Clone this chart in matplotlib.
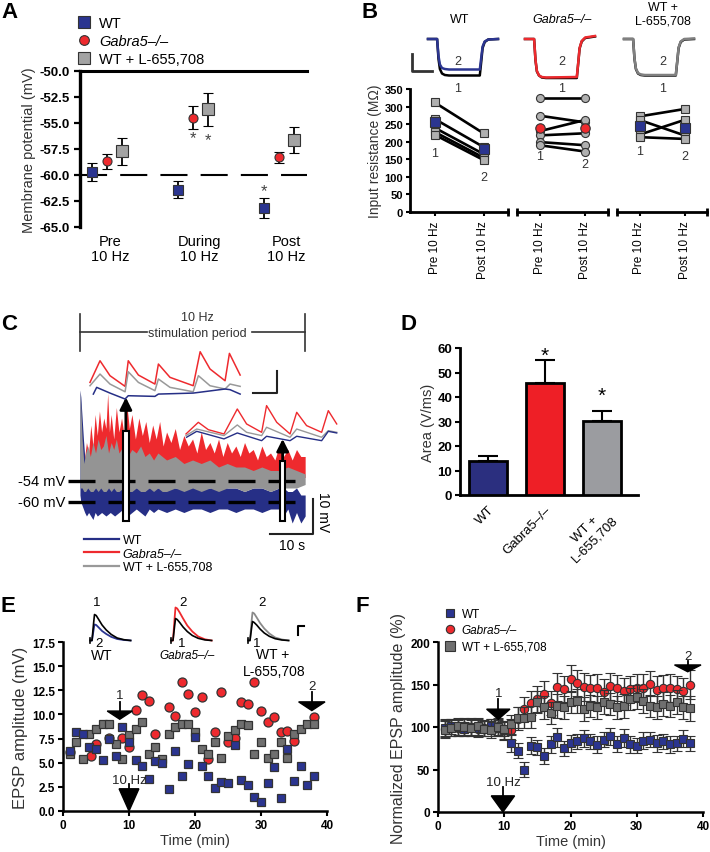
import matplotlib
matplotlib.use('Agg')
import matplotlib.pyplot as plt
from matplotlib.lines import Line2D
from matplotlib.patches import Rectangle

plt.rcParams['font.family'] = ['Liberation Sans', 'DejaVu Sans']
plt.rcParams['axes.unicode_minus'] = False

W, H = 710, 853

BLUE = '#2b3590'
RED = '#ee2a2e'
GRAY = '#a3a3a3'
DGRAY = '#6f6f6f'
EDGE = '#333333'

# ---------------- A: membrane potential
a_groups = ['Pre\n10 Hz', 'During\n10 Hz', 'Post\n10 Hz']
a_wt = [-59.7, -61.4, -63.2]
a_wt_err = [0.9, 0.8, 0.95]
a_ko = [-58.7, -54.5, -58.3]
a_ko_err = [0.75, 1.1, 0.55]
a_l = [-57.7, -53.7, -56.6]
a_l_err = [1.3, 1.55, 1.25]
a_yticks = [-65.0, -62.5, -60.0, -57.5, -55.0, -52.5, -50.0]

# ---------------- B: input resistance (MOhm)
b_wt_pre = [312, 265, 240, 228, 220]
b_wt_post = [224, 185, 165, 155, 148]
b_wt_mean = [255, 178]
b_ko_pre = [323, 274, 230, 218, 199, 190]
b_ko_post = [323, 255, 262, 224, 190, 172]
b_ko_mean = [240, 238]
b_l_pre = [272, 262, 220, 213]
b_l_post = [293, 218, 262, 208]
b_l_mean = [246, 239]
b_ticks = ['Pre 10 Hz', 'Post 10 Hz']
# step responses (ms, mV)
b_step_t = [0, 13, 15, 17, 20, 24, 30, 74, 76, 78, 81, 86, 100]
b_wt1 = [0, 0, -4.0, -6.0, -6.9, -7.2, -7.3, -7.3, -4.6, -1.8, -0.6, -0.1, 0]
b_wt2 = [0, 0, -3.4, -5.1, -5.8, -6.0, -6.1, -6.1, -3.8, -1.5, -0.5, -0.1, 0]
b_ko1 = [0, 0, -4.3, -6.5, -7.3, -7.7, -7.8, -7.8, -4.9, -1.9, -0.5, 0.2, 0.5]
b_ko2 = [0, 0, -4.2, -6.4, -7.3, -7.6, -7.7, -7.6, -4.8, -1.8, -0.4, 0.3, 0.6]
b_l1 = [0, 0, -4.0, -6.0, -6.9, -7.2, -7.3, -7.3, -4.6, -1.8, -0.6, -0.1, 0]
b_l2 = [0, 0, -3.9, -5.9, -6.8, -7.1, -7.2, -7.2, -4.5, -1.7, -0.5, 0, 0.1]

# ---------------- C: 10 Hz train (s, mV)
c_red_t = [0.5, 1.0, 1.5, 2.0, 2.5, 3.0, 3.5, 4.0, 4.5, 5.0, 5.5, 6.0, 6.4, 6.8, 7.2, 7.8,
           8.4, 9.0, 9.6, 10.2, 10.8, 11.4, 12.0, 12.8, 13.6, 14.4, 15.2, 16.0, 16.8, 17.6,
           18.4, 19.2, 20.0, 21.0, 22.0, 23.0, 24.0, 25.0, 26.0, 27.0, 28.0, 29.0, 30.0,
           31.0, 32.0, 33.0, 34.0, 35.0, 36.0, 37.0, 38.0, 39.0, 40.0, 41.0, 42.0, 43.0,
           44.0, 45.0, 46.0, 47.0, 48.0, 49.0, 50.0, 51.0, 52.0]
c_red_hi = [-45, -48, -43, -46, -38, -44, -35, -41, -34, -40, -36, -39, -29, -40, -35, -42,
            -33, -40, -36, -41, -32, -39, -35, -42, -36, -41, -37, -43, -38, -42,
            -37, -44, -40, -43, -39, -45, -41, -44, -42, -46, -40, -45, -43,
            -46, -42, -47, -43, -46, -44, -47, -43, -46, -45, -48, -44, -47,
            -46, -48, -44, -47, -45, -48, -45, -47, -47]
c_red_floor = -53
c_gray_t = [0.0, 0.2, 0.5, 0.9, 1.3, 1.8, 2.4, 3.0, 3.6, 4.2, 4.8, 5.4, 6.0, 6.6, 7.2, 7.8,
            8.4, 9.0, 10, 11, 12, 13, 14, 15, 16, 17, 18, 19, 20, 22, 24, 26, 28, 30, 32,
            34, 36, 38, 40, 42, 44, 46, 48, 50, 52]
c_gray_hi = [-28, -33, -42, -49, -46, -44, -47, -43, -46, -42, -45, -44, -41, -46, -43, -45,
             -42, -46, -44, -47, -45, -46, -44, -47, -46, -48, -46, -47, -48, -47, -49, -48,
             -49, -48, -50, -49, -50, -50, -51, -50, -51, -51, -50, -51, -52]
c_gray_lo = [-56, -56, -56, -57, -57, -56, -57, -57, -56, -57, -56, -57, -57, -56, -57, -56,
             -57, -57, -56, -57, -57, -56, -57, -57, -56, -57, -56, -57, -57, -56, -57, -56,
             -57, -56, -57, -56, -56, -57, -56, -56, -57, -56, -56, -56, -55]
c_wt_t = [0.0, 0.2, 0.5, 0.8, 1.1, 1.5, 2.0, 2.5, 3.0, 3.5, 4.0, 5, 6, 7, 8, 9, 10, 11, 12,
          13, 14, 15, 16, 17, 18, 20, 22, 24, 26, 28, 30, 32, 34, 36, 38, 40, 42, 44, 46,
          47, 48, 49, 50, 51, 52]
c_wt_hi = [-28, -30, -36, -42, -47, -50, -48, -52, -50, -53, -51, -54, -52, -55, -53, -55,
           -54, -56, -54, -56, -55, -55, -56, -55, -56, -55, -56, -56, -55, -56, -56, -55,
           -56, -56, -57, -56, -56, -57, -56, -56, -57, -57, -56, -58, -58]
c_wt_lo = [-58, -60, -61, -62, -63, -64, -63, -64, -65, -63, -64, -63, -64, -63, -64, -63,
           -62, -64, -63, -62, -63, -64, -62, -63, -62, -63, -62, -63, -62, -62, -63, -62,
           -62, -63, -62, -62, -63, -62, -62, -64, -62, -66, -63, -66, -64]
c_levels = [-54, -60]
c_box_t = [9.9, 46.2]
c_box_w = [1.4, 1.2]
c_box_lo = [-65.3, -65.3]
c_box_hi = [-39.6, -48.2]
c_tip = [-30.1, -42.0]
# early EPSP train (ms, mV)
c1_red_t = [0, 34.5, 69, 121, 132, 167, 224, 236, 276, 356, 380, 414, 466, 481, 518]
c1_red_v = [0.30, 2.27, 0.91, -0.06, 2.27, 0.97, 0.15, 1.97, 0.76, 0.0, 3.09, 1.52, 0.45, 2.94, 0.97]
c1_gray_t = [0, 34.5, 69, 121, 132, 167, 224, 236, 276, 356, 374, 414, 466, 483, 518]
c1_gray_v = [0, 1.06, 0.15, -0.55, 1.27, 0.30, -0.45, 0.61, -0.15, -0.55, 0.91, 0.0, -0.30, 0.15, -0.06]
c1_wt_t = [11.5, 23, 69, 121, 132, 224, 236, 356, 466, 483, 518]
c1_wt_v = [-0.76, -0.15, -0.67, -1.21, -0.91, -0.97, -0.76, -0.67, -0.30, -0.36, -0.76]
# late EPSP train
c2_red_t = [0, 42.5, 77, 131, 177, 209, 261, 278, 313, 359, 382, 416, 468, 491, 520]
c2_red_v = [0, 1.06, 0.39, 0, 2.27, 0.91, 0.15, 2.58, 1.06, 0, 1.97, 0.76, 0.15, 2.12, 0.91]
c2_gray_t = [0, 37, 131, 177, 209, 261, 278, 359, 382, 468, 491, 520]
c2_gray_v = [-0.15, 0.45, -0.15, 0.82, 0.15, -0.15, 0.61, -0.30, 0.45, -0.30, 0.30, 0.15]
c2_wt_t = [2, 37, 131, 177, 261, 278, 359, 382, 468, 491, 520]
c2_wt_v = [-0.30, 0.24, -0.45, 0.09, -0.61, -0.21, -0.61, -0.21, -0.61, 0.24, 0.09]

# ---------------- D: area
d_groups = ['WT', 'Gabra5\u2013/\u2013', 'WT +\nL-655,708']
d_vals = [14.0, 45.7, 30.4]
d_err = [2.0, 9.5, 3.8]

# ---------------- E: single experiments (min, mV)
e_wt_t = [1, 2, 3, 4, 5, 6, 7, 8, 9, 10, 11, 12, 13, 14, 15, 16, 17, 18, 19, 20, 21, 22, 23,
          24, 25, 26, 27, 28, 29, 30, 31, 32, 33, 34, 35, 36, 37, 38]
e_wt_v = [6.2, 8.2, 8.0, 6.6, 6.4, 5.3, 7.45, 5.7, 8.7, 7.1, 5.3, 4.65, 3.3, 5.2, 5.0, 2.3,
          6.2, 3.6, 4.9, 7.7, 4.65, 3.6, 2.4, 3.0, 2.9, 6.8, 3.2, 2.7, 1.45, 0.95, 2.9, 4.55,
          1.35, 6.4, 3.1, 4.65, 2.7, 3.6]
e_ko_t = [1, 4.2, 5, 7, 9, 10, 11, 12, 13, 14, 16, 17, 18, 19, 20, 21, 22, 23, 24, 25, 26,
          27, 28, 29, 30, 31, 32, 33, 34, 35, 38]
e_ko_v = [6.1, 5.7, 6.9, 7.6, 7.6, 6.6, 10.5, 12.0, 11.4, 8.0, 10.8, 9.8, 13.4, 12.1, 10.2,
          11.8, 5.4, 8.2, 12.3, 7.1, 7.6, 11.3, 11.1, 13.4, 10.4, 9.2, 9.7, 8.2, 8.3, 7.3, 9.7]
e_l_t = [1, 2, 3, 4, 5, 6, 7, 8, 9, 10, 11, 12, 13, 14, 15, 16, 17, 18, 19, 20, 21, 22, 23,
         24, 25, 26, 27, 28, 29, 30, 31, 32, 33, 34, 35, 36, 37, 38]
e_l_v = [5.9, 7.1, 5.4, 8.0, 8.5, 9.0, 9.0, 6.9, 5.4, 7.9, 8.5, 9.2, 5.9, 6.6, 5.4, 8.0, 8.7,
         9.0, 9.0, 8.2, 6.4, 5.9, 7.1, 5.5, 7.8, 8.4, 9.0, 8.9, 5.9, 7.1, 5.5, 5.9, 7.1, 5.5,
         8.0, 8.5, 9.0, 9.0]
e_yticks = [0.0, 2.5, 5.0, 7.5, 10.0, 12.5, 15.0, 17.5]
# EPSP insets (ms, mV)
e_ins_t = [0, 2, 4, 5, 7, 10, 14, 19, 25, 32, 40, 48]
e_wt1 = [0, 0, 1.8, 2.6, 2.5, 2.1, 1.55, 1.05, 0.6, 0.25, 0.08, 0]
e_wt2 = [0, 0, 1.1, 1.6, 1.55, 1.3, 0.95, 0.65, 0.36, 0.15, 0.05, 0]
e_ko2 = [0, 0, 2.3, 3.3, 3.2, 2.8, 2.2, 1.5, 0.9, 0.4, 0.12, 0]
e_ko1 = [0, 0, 1.5, 2.2, 2.1, 1.8, 1.35, 0.9, 0.5, 0.22, 0.06, 0]
e_l2 = [0, 0, 2.0, 2.8, 2.7, 2.3, 1.75, 1.2, 0.7, 0.3, 0.1, 0]
e_l1 = [0, 0, 1.3, 1.9, 1.8, 1.55, 1.15, 0.75, 0.42, 0.18, 0.05, 0]

# ---------------- F: normalized EPSP (%)
f_t = list(range(1, 39))
f_wt = [99, 101, 100, 98, 100, 99, 98, 101, 99, 96, 81, 72, 50, 78, 76, 66, 80, 88, 75, 81,
        83, 87, 83, 79, 85, 89, 80, 87, 80, 78, 84, 85, 81, 83, 80, 81, 86, 81]
f_wt_err = [10, 9, 10, 8, 9, 10, 9, 8, 9, 10, 10, 9, 9, 10, 9, 9, 10, 11, 9, 10, 9, 10, 9,
            10, 9, 10, 9, 11, 10, 9, 10, 9, 10, 9, 10, 9, 10, 9]
f_ko = [98, 100, 99, 101, 100, 98, 99, 100, 101, 96, 97, 110, 121, 128, 133, 139, 128, 147,
        145, 157, 152, 147, 146, 146, 141, 148, 146, 142, 145, 146, 146, 151, 144, 146, 146,
        145, 142, 150]
f_ko_err = [10, 10, 9, 10, 11, 10, 9, 10, 10, 11, 12, 13, 14, 14, 15, 15, 14, 16, 15, 16, 15,
            16, 15, 16, 15, 16, 15, 16, 15, 16, 16, 15, 16, 15, 16, 15, 16, 17]
f_l = [97, 99, 101, 100, 99, 101, 98, 97, 100, 98, 103, 111, 111, 112, 129, 123, 117, 125,
       123, 129, 131, 121, 125, 123, 129, 127, 123, 125, 133, 135, 131, 125, 123, 127, 125,
       129, 123, 122]
f_l_err = [10, 9, 10, 10, 9, 10, 9, 10, 10, 9, 11, 12, 12, 13, 13, 14, 13, 14, 14, 13, 14, 14,
           13, 14, 14, 13, 14, 14, 13, 14, 14, 13, 14, 14, 13, 14, 14, 15]

fig = plt.figure(figsize=(7.1, 8.53), dpi=100)


def box(x0, y0, x1, y1):
    return [x0 / W, 1 - y1 / H, (x1 - x0) / W, (y1 - y0) / H]


def ftext(x, y, s, **kw):
    kw.setdefault('ha', 'center')
    kw.setdefault('va', 'center')
    fig.text(x / W, 1 - y / H, s, **kw)


def bold_ticks(ax, size):
    for lab in ax.get_xticklabels() + ax.get_yticklabels():
        lab.set_fontweight('bold')
        lab.set_fontsize(size)


def down_arrow(ax, x, tip, base, top, hw, label, label_y):
    ax.fill([x - hw, x + hw, x], [base, base, tip], color='k', clip_on=False, zorder=6)
    ax.plot([x, x], [base, top], color='k', lw=1.3, clip_on=False, zorder=6)
    ax.text(x, label_y, label, ha='center', va='bottom', fontsize=9.5, color='#222222',
            zorder=6)


# ======================= A
axA = fig.add_axes(box(80, 72, 307, 228))
off = 0.17
xs = range(3)
axA.errorbar([x - off for x in xs], a_wt, yerr=a_wt_err, fmt='s', ms=7.5, mfc=BLUE,
             mec=EDGE, mew=0.8, ecolor='k', elinewidth=1.3, capsize=3.6, capthick=1.3,
             zorder=4)
axA.errorbar(list(xs), a_ko, yerr=a_ko_err, fmt='o', ms=6.5, mfc=RED, mec=EDGE, mew=0.8,
             ecolor='k', elinewidth=1.3, capsize=3.6, capthick=1.3, zorder=4)
axA.errorbar([x + off for x in xs], a_l, yerr=a_l_err, fmt='s', ms=8, mfc=GRAY, mec=EDGE,
             mew=0.8, ecolor='k', elinewidth=1.3, capsize=3.6, capthick=1.3, zorder=4)
axA.axhline(-60, color='k', lw=1.5, dashes=(13, 6.3), zorder=2)
axA.set_xlim(-0.314, 2.326)
axA.set_ylim(-65, -50)
for s in ['right', 'bottom']:
    axA.spines[s].set_visible(False)
axA.spines['left'].set_linewidth(2.4)
axA.spines['top'].set_linewidth(2.2)
axA.set_yticks(a_yticks)
axA.set_yticklabels(['%.1f' % v for v in a_yticks])
axA.tick_params(axis='y', length=4, width=1.6)
axA.set_xticks([0.04, 1.07, 2.09])
axA.set_xticklabels(a_groups, fontsize=10.5, linespacing=1.1)
axA.tick_params(axis='x', length=0, pad=5)
for lab in axA.get_yticklabels():
    lab.set_fontweight('bold')
    lab.set_fontsize(9.5)
axA.set_ylabel('Membrane potential (mV)', fontsize=10.5, color='#333333', labelpad=2)
for x, y in [(1.0, -56.4), (1.17, -56.6), (1.83, -61.5)]:
    axA.text(x, y, '*', ha='center', va='center', fontsize=12, color='#444444')
legA = fig.legend(handles=[
    Line2D([], [], ls='none', marker='s', ms=8, mfc=BLUE, mec=EDGE, mew=0.8),
    Line2D([], [], ls='none', marker='o', ms=7, mfc=RED, mec=EDGE, mew=0.8),
    Line2D([], [], ls='none', marker='s', ms=8, mfc=GRAY, mec=EDGE, mew=0.8)],
    labels=['WT', 'Gabra5\u2013/\u2013', 'WT + L-655,708'],
    loc='upper left', bbox_to_anchor=(77 / W, 1 - 17 / H), frameon=False, fontsize=10.5,
    handlelength=1.0, handletextpad=0.5, labelspacing=0.27, borderpad=0, borderaxespad=0)
legA.get_texts()[1].set_fontstyle('italic')

# ======================= B
b_boxes = [(410, 508), (517, 608), (617, 707)]
b_sets = [(b_wt_pre, b_wt_post, b_wt_mean, 's', BLUE),
          (b_ko_pre, b_ko_post, b_ko_mean, 'o', RED),
          (b_l_pre, b_l_post, b_l_mean, 's', BLUE)]
b_nums = [((0, 168), (1, 100)), ((0, 160), (1, 137)), ((0, 174), (1, 160))]
for i, ((x0, x1), (pre, post, mean, mk, col)) in enumerate(zip(b_boxes, b_sets)):
    ax = fig.add_axes(box(x0, 90, x1, 213))
    for p, q in zip(pre, post):
        ax.plot([0, 1], [p, q], color='k', lw=1.9, zorder=2)
        ax.plot([0, 1], [p, q], ls='none', marker=mk, ms=5.8, mfc='#b0b0b0',
                mec='#333333', mew=0.8, zorder=3)
    ax.plot([0, 1], mean, ls='none', marker=mk, ms=6.8, mfc=col, mec='#333333', mew=0.8,
            zorder=4)
    ax.set_xlim(-0.5, 1.5)
    ax.set_ylim(0, 350)
    ax.spines['top'].set_visible(False)
    ax.spines['right'].set_visible(False)
    ax.spines['bottom'].set_linewidth(2)
    ax.set_xticks([0, 1])
    ax.set_xticklabels(b_ticks, rotation=90, fontsize=8.5, va='top')
    ax.tick_params(axis='x', length=3, width=1.5, pad=3)
    ax.plot([0, 1] if i else [1], [0, 0] if i else [0], transform=ax.transAxes, ls='none',
            marker='|', ms=6, mew=2, color='k', clip_on=False)
    if i == 0:
        ax.spines['left'].set_linewidth(2)
        ax.set_yticks(range(0, 351, 50))
        ax.tick_params(axis='y', length=3, width=1.5, pad=2)
        for lab in ax.get_yticklabels():
            lab.set_fontweight('bold')
            lab.set_fontsize(8)
        ax.set_ylabel('Input resistance (M\u03a9)', fontsize=10, color='#333333',
                      labelpad=2)
    else:
        ax.spines['left'].set_visible(False)
        ax.set_yticks([])
    (nx1, ny1), (nx2, ny2) = b_nums[i]
    ax.text(nx1, ny1, '1', ha='center', va='center', fontsize=9, color='#333333')
    ax.text(nx2, ny2, '2', ha='center', va='center', fontsize=9, color='#333333')

b_ins = [(403.5, b_wt1, b_wt2, BLUE), (500.5, b_ko1, b_ko2, RED),
         (599.5, b_l1, b_l2, '#808080')]
for j, (left, v1, v2, col) in enumerate(b_ins):
    ax = fig.add_axes(box(left, 30, left + 98, 90))
    ax.plot(b_step_t, v1, color='k', lw=1.8)
    ax.plot(b_step_t, v2, color=col, lw=1.8)
    ax.set_xlim(-35, 105)
    ax.set_ylim(-10, 2)
    ax.axis('off')
    if j == 0:
        ax.plot([-23, -23, 5.7], [-3.0, -6.4, -6.4], color='#333333', lw=2)
ftext(460, 20, 'WT', fontsize=9)
ftext(562, 20, 'Gabra5\u2013/\u2013', fontsize=9, fontstyle='italic')
ftext(663, 15, 'WT +\nL-655,708', fontsize=9, linespacing=1.15)
for cx in [458, 562, 663]:
    ftext(cx, 62, '2', fontsize=9, color='#333333')
    ftext(cx, 89, '1', fontsize=9, color='#333333')

# ======================= C
axC = fig.add_axes(box(15, 300, 345, 545))
axC.set_xlim(-15.0, 61.2)
axC.set_ylim(-72, -2)
axC.axis('off')
axC.fill_between(c_red_t, c_red_hi, c_red_floor, color=RED, lw=0, zorder=1)
axC.fill_between(c_wt_t, c_wt_hi, c_wt_lo, color='#262f86', lw=0, zorder=2)
axC.fill_between(c_gray_t, c_gray_hi, c_gray_lo, color='#949494', lw=0, zorder=3)
for lv in c_levels:
    axC.plot([-2.8, 49.7], [lv, lv], color='k', lw=2.4, dashes=(8.1, 3.9), zorder=4)
    axC.text(-3.3, lv, '%d mV' % lv, ha='right', va='center', fontsize=10.5)
for t0, w, lo, hi, tip in zip(c_box_t, c_box_w, c_box_lo, c_box_hi, c_tip):
    axC.add_patch(Rectangle((t0, lo), w, hi - lo, fc='white', ec='k', lw=1.5, zorder=5))
    axC.annotate('', xy=(t0 + w / 2, tip), xytext=(t0 + w / 2, hi),
                 arrowprops=dict(arrowstyle='-|>', color='k', lw=2, mutation_scale=18,
                                 shrinkA=0, shrinkB=0), zorder=6)
# stimulation period bar
axC.plot([0, 15.5], [-11.4, -11.4], color='#333333', lw=1.2)
axC.plot([39.7, 52], [-11.4, -11.4], color='#333333', lw=1.2)
axC.plot([0, 0], [-6.3, -16.9], color='#333333', lw=1.2)
axC.plot([52, 52], [-6.3, -16.9], color='#333333', lw=1.2)
axC.text(27.2, -7.1, '10 Hz', ha='center', va='center', fontsize=9, color='#333333')
axC.text(27.2, -11.6, 'stimulation period', ha='center', va='center', fontsize=9,
         color='#333333')
# scale bars
axC.plot([43.9, 53.8, 53.8], [-69.1, -69.1, -59.1], color='#222222', lw=1.5)
axC.text(48.9, -70.3, '10 s', ha='center', va='top', fontsize=10)
axC.text(56.2, -62.5, '10 mV', ha='center', va='center', rotation=-90, fontsize=10)

axC1 = fig.add_axes(box(85, 348, 290, 402))
axC1.plot(c1_red_t, c1_red_v, color=RED, lw=1.1)
axC1.plot(c1_gray_t, c1_gray_v, color='#999999', lw=1.1)
axC1.plot(c1_wt_t, c1_wt_v, color='#262f86', lw=1.1)
axC1.plot([564, 644, 644], [-0.7, -0.7, 1.3], color='#222222', lw=1.5)
axC1.set_xlim(-17.25, 690)
axC1.set_ylim(-1.39, 3.52)
axC1.axis('off')
axC2 = fig.add_axes(box(180, 400, 345, 452))
axC2.plot(c2_red_t, c2_red_v, color=RED, lw=1.0)
axC2.plot(c2_gray_t, c2_gray_v, color='#999999', lw=1.0)
axC2.plot(c2_wt_t, c2_wt_v, color='#262f86', lw=1.0)
axC2.set_xlim(-20.7, 548.6)
axC2.set_ylim(-1.55, 3.18)
axC2.axis('off')
legC = fig.legend(handles=[Line2D([], [], color='#262f86', lw=1.6),
                           Line2D([], [], color=RED, lw=1.6),
                           Line2D([], [], color='#999999', lw=1.6)],
                  labels=['WT', 'Gabra5\u2013/\u2013', 'WT + L-655,708'],
                  loc='upper left', bbox_to_anchor=(84 / W, 1 - 535 / H), frameon=False,
                  fontsize=9, handlelength=2.8, handletextpad=0.3, labelspacing=0.12,
                  borderpad=0, borderaxespad=0)
legC.get_texts()[1].set_fontstyle('italic')

# ======================= D
axD = fig.add_axes(box(460, 349, 638, 496))
axD.bar(range(3), d_vals, width=0.68, color=['#2b2f7f', '#ee1f26', '#9b9ca0'],
        edgecolor='k', linewidth=2, zorder=3)
axD.errorbar(range(3), d_vals, yerr=[[0, 0, 0], d_err], fmt='none', ecolor='k',
             elinewidth=1.5, capsize=7, capthick=1.5, zorder=2)
axD.set_xlim(-0.49, 2.63)
axD.set_ylim(0, 60)
axD.spines['top'].set_visible(False)
axD.spines['right'].set_visible(False)
axD.spines['left'].set_linewidth(2)
axD.spines['bottom'].set_linewidth(2)
axD.set_yticks(range(0, 61, 10))
axD.tick_params(axis='y', length=3.5, width=1.5, pad=2)
axD.set_xticks(range(3))
axD.set_xticklabels(d_groups, rotation=45, ha='right', rotation_mode='anchor',
                    fontsize=9.5, multialignment='center')
axD.tick_params(axis='x', length=0, pad=6)
for lab in axD.get_yticklabels():
    lab.set_fontweight('bold')
    lab.set_fontsize(9.5)
axD.set_ylabel('Area (V/ms)', fontsize=10.5, color='#333333', labelpad=2)
axD.text(1, 57.0, '*', ha='center', va='center', fontsize=15)
axD.text(2, 40.5, '*', ha='center', va='center', fontsize=15)

# ======================= E
axE = fig.add_axes(box(63, 643, 327, 812))
axE.plot(e_ko_t, e_ko_v, 'o', ms=6.5, mfc=RED, mec=EDGE, mew=0.9, zorder=3)
axE.plot(e_l_t, e_l_v, 's', ms=6, mfc=DGRAY, mec=EDGE, mew=0.9, zorder=4)
axE.plot(e_wt_t, e_wt_v, 's', ms=6, mfc=BLUE, mec=EDGE, mew=0.9, zorder=5)
axE.set_xlim(0, 40)
axE.set_ylim(0, 17.5)
axE.spines['top'].set_visible(False)
axE.spines['right'].set_visible(False)
axE.spines['left'].set_linewidth(1.8)
axE.spines['bottom'].set_linewidth(1.8)
axE.set_yticks(e_yticks)
axE.set_yticklabels(['%.1f' % v for v in e_yticks])
axE.set_xticks([0, 10, 20, 30, 40])
axE.tick_params(length=3.5, width=1.5, pad=2)
bold_ticks(axE, 8.5)
axE.set_xlabel('Time (min)', fontsize=10.5, color='#333333', labelpad=2)
axE.set_ylabel('EPSP amplitude (mV)', fontsize=12, color='#333333', labelpad=3)
down_arrow(axE, 8.6, 9.5, 10.35, 11.3, 1.9, '1', 11.4)
down_arrow(axE, 10.0, 0.0, 2.3, 2.8, 1.5, '10 Hz', 2.6)
down_arrow(axE, 37.7, 10.4, 11.3, 12.3, 2.0, '2', 12.3)

e_ins = [(90.3, e_wt1, e_wt2, '#2b3590'), (171.3, e_ko1, e_ko2, RED),
         (248.3, e_l1, e_l2, '#8a8a8a')]
for j, (t0, v1, v2, col) in enumerate(e_ins):
    right = 70 if j == 2 else 50
    ax = fig.add_axes(box(t0 - 3 * 0.84, 603, t0 + right * 0.84, 648))
    ax.plot(e_ins_t, v2, color=col, lw=1.3)
    ax.plot(e_ins_t, v1, color='k', lw=1.2)
    ax.plot([0, 0], [-0.25, 0.3], color='k', lw=1.2)
    ax.set_xlim(-3, right)
    ax.set_ylim(-0.65, 3.85)
    ax.axis('off')
    if j == 2:
        ax.plot([59, 59, 66], [0.55, 1.45, 1.45], color='k', lw=1.5)
ftext(97, 603, '1', fontsize=9.5)
ftext(99, 644, '2', fontsize=9.5)
ftext(102, 656, 'WT', fontsize=10)
ftext(183, 603, '2', fontsize=9.5)
ftext(182, 644, '1', fontsize=9.5)
ftext(187, 656, 'Gabra5\u2013/\u2013', fontsize=8.5, fontstyle='italic')
ftext(262, 603, '2', fontsize=9.5)
ftext(257, 644, '1', fontsize=9.5)
ftext(273, 655, 'WT +', fontsize=10)
ftext(274, 672, 'L-655,708', fontsize=10)

# ======================= F
axF = fig.add_axes(box(438, 643, 703, 813))
ekw = dict(ecolor='#333333', elinewidth=1.0, capsize=3.4, capthick=1.0)
axF.errorbar(f_t, f_ko, yerr=f_ko_err, fmt='o', ms=6, mfc=RED, mec=EDGE, mew=0.8,
             zorder=3, **ekw)
axF.errorbar(f_t, f_wt, yerr=f_wt_err, fmt='s', ms=6, mfc=BLUE, mec=EDGE, mew=0.8,
             zorder=4, **ekw)
axF.errorbar(f_t, f_l, yerr=f_l_err, fmt='s', ms=6, mfc=DGRAY, mec=EDGE, mew=0.8,
             zorder=5, **ekw)
axF.set_xlim(0, 40)
axF.set_ylim(0, 200)
axF.spines['top'].set_visible(False)
axF.spines['right'].set_visible(False)
axF.spines['left'].set_linewidth(1.8)
axF.spines['bottom'].set_linewidth(1.8)
axF.set_yticks([0, 50, 100, 150, 200])
axF.set_xticks([0, 10, 20, 30, 40])
axF.tick_params(length=3.5, width=1.5, pad=2)
bold_ticks(axF, 8.5)
axF.set_xlabel('Time (min)', fontsize=10.5, color='#333333', labelpad=2)
axF.set_ylabel('Normalized EPSP amplitude (%)', fontsize=11.5, color='#333333',
               labelpad=3)
down_arrow(axF, 9.1, 109, 121, 133, 1.76, '1', 133)
down_arrow(axF, 9.8, 0, 19, 29, 1.76, '10 Hz', 28)
down_arrow(axF, 37.7, 165, 173, 178, 2.0, '2', 177)
legF = fig.legend(handles=[
    Line2D([], [], ls='none', marker='s', ms=6, mfc=BLUE, mec=EDGE, mew=0.8),
    Line2D([], [], ls='none', marker='o', ms=6, mfc=RED, mec=EDGE, mew=0.8),
    Line2D([], [], ls='none', marker='s', ms=6.5, mfc=DGRAY, mec=EDGE, mew=0.8)],
    labels=['WT', 'Gabra5\u2013/\u2013', 'WT + L-655,708'],
    loc='upper left', bbox_to_anchor=(445 / W, 1 - 609 / H), frameon=False, fontsize=8.5,
    handlelength=0.8, handletextpad=0.6, labelspacing=0.38, borderpad=0, borderaxespad=0)
legF.get_texts()[1].set_fontstyle('italic')

# panel letters
for letter, x, y in [('A', 10, 12), ('B', 370, 12), ('C', 9, 324), ('D', 409, 324),
                     ('E', 8, 607), ('F', 362, 607)]:
    ftext(x, y, letter, fontsize=16, fontweight='bold')

fig.savefig('out.png', dpi=100)
